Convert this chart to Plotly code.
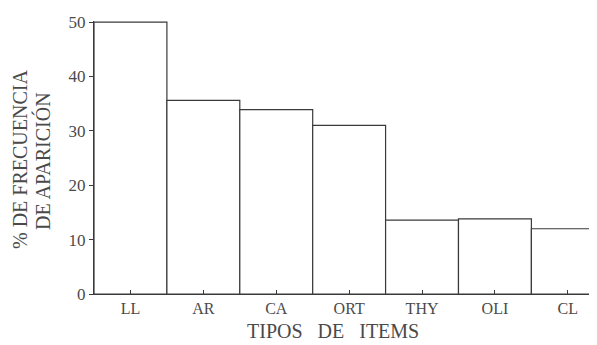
import plotly.graph_objects as go

categories = ["LL", "AR", "CA", "ORT", "THY", "OLI", "CL"]
values = [50, 35.6, 33.9, 31.0, 13.6, 13.8, 12.0]
y_ticks = [0, 10, 20, 30, 40, 50]

FONT = "Liberation Serif"
INK = "#3a3a3a"
TXT = "#4a4a4a"

fig = go.Figure(go.Bar(
    x=list(range(len(categories))),
    y=values,
    width=1.0,
    marker=dict(color="white", line=dict(color=INK, width=1.2)),
))

PLOT_W, PLOT_H = 503, 273

fig.update_layout(
    width=589, height=337,
    margin=dict(l=86, r=0, t=13, b=51, autoexpand=False),
    paper_bgcolor="white", plot_bgcolor="white",
    showlegend=False,
    font=dict(family=FONT, color=TXT),
    xaxis=dict(
        automargin=False,
        range=[-0.5, 6.4],
        tickmode="array",
        tickvals=list(range(len(categories))),
        ticktext=categories,
        ticks="inside", ticklen=4, tickcolor=INK, tickwidth=1,
        showgrid=False, zeroline=False,
        showline=True, linecolor=INK, linewidth=1,
        tickfont=dict(family=FONT, size=16, color=TXT),
    ),
    yaxis=dict(
        automargin=False,
        range=[0, 50.2],
        tickmode="array",
        tickvals=y_ticks,
        ticks="outside", ticklen=4, tickcolor=INK, tickwidth=1,
        showgrid=False, zeroline=False,
        showline=True, linecolor=INK, linewidth=1,
        tickfont=dict(family=FONT, size=17, color=TXT),
    ),
    annotations=[
        dict(
            text="TIPOS   DE   ITEMS", xref="paper", yref="paper",
            x=(333 - 94) / PLOT_W, y=-37 / PLOT_H, xanchor="center", yanchor="middle",
            showarrow=False, font=dict(family=FONT, size=20, color=TXT),
        ),
        dict(
            text="% DE FRECUENCIA", xref="paper", yref="paper",
            x=(20 - 94) / PLOT_W, y=(294 - 160) / PLOT_H, xanchor="center", yanchor="middle",
            textangle=-90, showarrow=False,
            font=dict(family=FONT, size=20, color=TXT),
        ),
        dict(
            text="DE APARICIÓN", xref="paper", yref="paper",
            x=(42 - 94) / PLOT_W, y=(294 - 161) / PLOT_H, xanchor="center", yanchor="middle",
            textangle=-90, showarrow=False,
            font=dict(family=FONT, size=20, color=TXT),
        ),
    ],
)

fig.write_html("out.html")
